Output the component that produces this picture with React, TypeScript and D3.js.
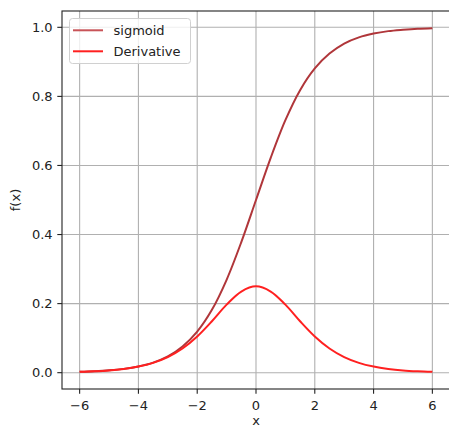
import React from "react";
import * as d3 from "d3";

const xValues = [-6, -5.5, -5, -4.5, -4, -3.5, -3, -2.5, -2, -1.5, -1, -0.5, 0, 0.5, 1, 1.5, 2, 2.5, 3, 3.5, 4, 4.5, 5, 5.5, 6];
const sigmoidValues = [0.0025, 0.0041, 0.0067, 0.011, 0.018, 0.029, 0.047, 0.076, 0.119, 0.182, 0.269, 0.378, 0.5, 0.622, 0.731, 0.818, 0.881, 0.924, 0.953, 0.971, 0.982, 0.989, 0.993, 0.996, 0.9975];
const derivativeValues = [0.0025, 0.0041, 0.0066, 0.0109, 0.0177, 0.0285, 0.0452, 0.0701, 0.105, 0.149, 0.197, 0.235, 0.25, 0.235, 0.197, 0.149, 0.105, 0.0701, 0.0452, 0.0285, 0.0177, 0.0109, 0.0066, 0.0041, 0.0025];
const xTicks = [-6, -4, -2, 0, 2, 4, 6];
const yTicks = [0, 0.2, 0.4, 0.6, 0.8, 1.0];
const seriesNames = ["sigmoid", "Derivative"];

const W = 449;
const H = 428;
const left = 62;
const right = 450;
const top = 11;
const bottom = 389;

export default function App() {
  const x = d3.scaleLinear().domain([-6.6, 6.6]).range([left, right]);
  const y = d3.scaleLinear().domain([-0.04725, 1.04725]).range([bottom, top]);
  const line = d3
    .line<number>()
    .x((_, i) => x(xValues[i]))
    .y((d) => y(d))
    .curve(d3.curveCatmullRom);
  const font = "DejaVu Sans, sans-serif";
  const fs = 13;
  const sigColor = "#b0363a";
  const sigLegend = "#c85458";
  const derColor = "#ff2020";
  return (
    <svg width={W} height={H} style={{ position: "absolute", left: 0, top: 0 }}>
      <rect x={0} y={0} width={W} height={H} fill="#fff" />
      {xTicks.map((t) => (
        <line key={"gx" + t} x1={x(t)} x2={x(t)} y1={top} y2={bottom} stroke="#b0b0b0" strokeWidth={1.1} />
      ))}
      {yTicks.map((t) => (
        <line key={"gy" + t} x1={left} x2={right} y1={y(t)} y2={y(t)} stroke="#b0b0b0" strokeWidth={1.1} />
      ))}
      <path d={line(sigmoidValues) || ""} fill="none" stroke={sigColor} strokeWidth={2} />
      <path d={line(derivativeValues) || ""} fill="none" stroke={derColor} strokeWidth={2} />
      <rect x={left} y={top} width={right - left} height={bottom - top} fill="none" stroke="#222" strokeWidth={1.1} />
      {xTicks.map((t) => (
        <g key={"tx" + t}>
          <line x1={x(t)} x2={x(t)} y1={bottom} y2={bottom + 4.7} stroke="#222" strokeWidth={1.1} />
          <text x={x(t)} y={405} textAnchor="middle" dominantBaseline="central" fontFamily={font} fontSize={fs} fill="#222">
            {t < 0 ? "\u2212" + Math.abs(t) : String(t)}
          </text>
        </g>
      ))}
      {yTicks.map((t) => (
        <g key={"ty" + t}>
          <line x1={left - 4.7} x2={left} y1={y(t)} y2={y(t)} stroke="#222" strokeWidth={1.1} />
          <text x={left - 9.4} y={y(t)} textAnchor="end" dominantBaseline="central" fontFamily={font} fontSize={fs} fill="#222">
            {t.toFixed(1)}
          </text>
        </g>
      ))}
      <text x={256} y={420} textAnchor="middle" dominantBaseline="central" fontFamily={font} fontSize={fs} fill="#222">
        x
      </text>
      <text
        transform={`translate(15,${(top + bottom) / 2}) rotate(-90)`}
        textAnchor="middle"
        dominantBaseline="central"
        fontFamily={font}
        fontSize={fs}
        fill="#222"
      >
        f(x)
      </text>
      <g>
        <rect x={69.5} y={18.5} width={121} height={45} rx={3} fill="#fff" fillOpacity={0.8} stroke="#d0d0d0" strokeWidth={1} />
        {seriesNames.map((name, i) => (
          <g key={name}>
            <line x1={73} x2={103} y1={30.3 + i * 21} y2={30.3 + i * 21} stroke={i === 0 ? sigLegend : derColor} strokeWidth={2} />
            <text x={113.5} y={30.3 + i * 21} dominantBaseline="central" fontFamily={font} fontSize={fs} fill="#222">
              {name}
            </text>
          </g>
        ))}
      </g>
    </svg>
  );
}
